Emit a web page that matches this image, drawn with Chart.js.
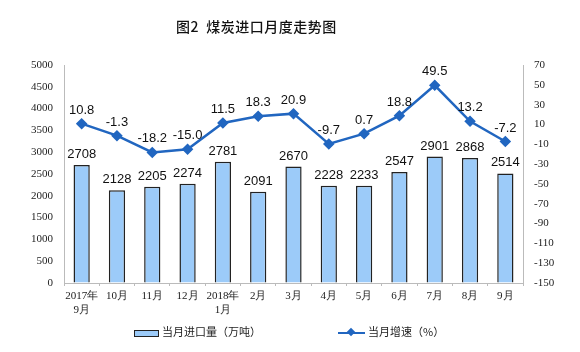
<!DOCTYPE html>
<html>
<head>
<meta charset="utf-8">
<script src="https://cdn.jsdelivr.net/npm/chart.js@4/dist/chart.umd.min.js"></script>
<style>
  body { margin: 0; background: #fff; }
  #wrap { position: relative; width: 580px; height: 352px; }
  #title { position: absolute; left: 176px; top: 16px; font: 500 14px "Noto Sans CJK SC", sans-serif; color: #111; letter-spacing: 0.5px; }
  .legend { position: absolute; top: 323px; font: 11px "Noto Sans CJK SC", sans-serif; color: #222; }
  .swatchBar { display: inline-block; width: 23px; height: 5px; background: #9ccbf9; border: 1.5px solid #222; vertical-align: middle; margin-right: 3px; }
  .swatchLine { display: inline-block; position: relative; width: 27px; height: 2px; background: #2166c0; vertical-align: middle; margin-right: 3px; }
  .swatchLine i { position: absolute; left: 10px; top: -3px; width: 6px; height: 6px; background: #2166c0; transform: rotate(45deg); }
</style>
</head>
<body>
<div id="wrap">
  <canvas id="chart" width="580" height="352"></canvas>
  <div id="title">图2&nbsp; 煤炭进口月度走势图</div>
  <div class="legend" style="left:134px"><span class="swatchBar"></span>当月进口量（万吨）</div>
  <div class="legend" style="left:338px"><span class="swatchLine"><i></i></span>当月增速（%）</div>
</div>
<script>

const months = [["2017年", "9月"], "10月", "11月", "12月", ["2018年", "1月"], "2月", "3月", "4月", "5月", "6月", "7月", "8月", "9月"];
const imports = [2708, 2128, 2205, 2274, 2781, 2091, 2670, 2228, 2233, 2547, 2901, 2868, 2514];
const growth = [10.8, -1.3, -18.2, -15.0, 11.5, 18.3, 20.9, -9.7, 0.7, 18.8, 49.5, 13.2, -7.2];

const serif = "'Liberation Serif', 'DejaVu Serif', serif";

// value labels above bars and points
const valueLabels = {
  id: "valueLabels",
  afterDatasetsDraw(chart){
    const ctx = chart.ctx;
    ctx.save();
    ctx.font = "13px 'Liberation Sans', Arial, sans-serif";
    ctx.fillStyle = "#111";
    ctx.textAlign = "center";
    ctx.textBaseline = "bottom";
    chart.getDatasetMeta(1).data.forEach((bar, i) => {
      ctx.fillText(String(imports[i]), bar.x, bar.y - 4);
    });
    chart.getDatasetMeta(0).data.forEach((pt, i) => {
      ctx.fillText(growth[i].toFixed(1), pt.x, pt.y - 7);
    });
    ctx.restore();
  }
};

new Chart("chart", {
  data: {
    labels: months,
    datasets: [
      {
        type: "line",
        data: growth,
        yAxisID: "y1",
        borderColor: "#2166c0",
        backgroundColor: "#2166c0",
        borderWidth: 2.5,
        pointStyle: "rectRot",
        pointRadius: 4,
        tension: 0,
        order: 0
      },
      {
        type: "bar",
        data: imports,
        yAxisID: "y",
        backgroundColor: "#9ccbf9",
        borderColor: "#222",
        borderWidth: 1.5,
        barPercentage: 0.46,
        categoryPercentage: 1,
        order: 1
      }
    ]
  },
  options: {
    responsive: false,
    animation: false,
    layout: {padding: {top: 65, left: 0, right: 0, bottom: 0}},
    plugins: {legend: {display: false}, tooltip: {enabled: false}},
    scales: {
      x: {
        grid: {drawOnChartArea: false, drawTicks: true, tickLength: 3, color: "#bbb", offset: true},
        border: {color: "#bbb"},
        ticks: {font: {family: serif, size: 11}, color: "#222", padding: 4, maxRotation: 0, autoSkip: false},
        afterFit(s){ s.height = 69; }
      },
      y: {
        position: "left",
        min: 0,
        max: 5000,
        grid: {drawOnChartArea: false, drawTicks: false},
        border: {color: "#bbb"},
        ticks: {stepSize: 500, font: {family: serif, size: 11}, color: "#222", padding: 11, callback: v => String(v)},
        afterFit(s){ s.width = 64; }
      },
      y1: {
        position: "right",
        min: -150,
        max: 70,
        grid: {drawOnChartArea: false, drawTicks: false},
        border: {color: "#bbb"},
        ticks: {stepSize: 20, font: {family: serif, size: 11}, color: "#222", padding: 11},
        afterFit(s){ s.width = 57; }
      }
    }
  },
  plugins: [valueLabels]
});

</script>
</body>
</html>
